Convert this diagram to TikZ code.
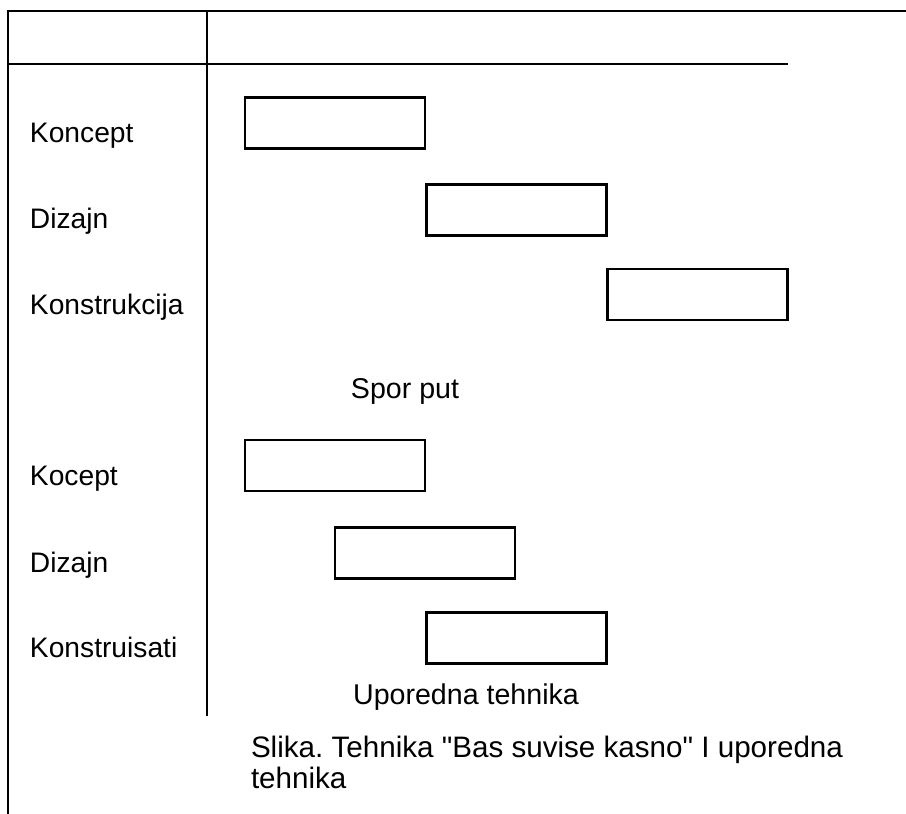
\documentclass[tikz,border=0pt]{standalone}
\usepackage{fontspec}
\setmainfont{Liberation Sans}[Ligatures=TeXOff]
\usetikzlibrary{calc}
\frenchspacing

\begin{document}
\begin{tikzpicture}[x=0.5pt, y=-0.5pt, line width=1pt,
		phase/.style = {draw, line width=1.2pt, minimum width=90pt, minimum height=25.5pt, inner sep=0pt},
		lbl/.style = {anchor=base west, inner sep=0pt, font=\fontsize{14.1}{17}\selectfont},
		mid/.style = {anchor=base, inner sep=0pt, font=\fontsize{14.3}{17}\selectfont},
		captxt/.style = {anchor=base west, inner sep=0pt, font=\fontsize{14.8}{18}\selectfont}]
		\useasboundingbox (0,0) rectangle (906,814);
		% frame of the table
		\coordinate (TL) at (8,11);
		\coordinate (TR) at (906,11);
		\coordinate (BL) at (8,814);
		\coordinate (DT) at (207,11);
		\coordinate (DB) at (207,716);
		\coordinate (HL) at (8,64);
		\coordinate (HR) at (788,64);
		\draw[line width=1.4pt] (TR) -- (TL) -- (BL);
		\draw (DT) -- (DB);
		\draw[line width=1.2pt] (HL) -- (HR);
		% slow way
		\node[lbl] (K1) at (29,142) {Koncept};
		\node[lbl] (D1) at (29,228) {Dizajn};
		\node[lbl] (G1) at (29,314) {Konstrukcija};
		\node[phase] (BK1) at (335,123) {};
		\node[phase] (BD1) at (516.5,210) {};
		\node[phase] (BG1) at (697.5,294.5) {};
		\node[mid] (S) at (405,398) {Spor put};
		% parallel way
		\node[lbl] (K2) at (29,485) {Kocept};
		\node[lbl] (D2) at (29,572) {Dizajn};
		\node[lbl] (G2) at (29,657) {Konstruisati};
		\node[phase] (BK2) at (335,465.5) {};
		\node[phase] (BD2) at (425,553) {};
		\node[phase] (BG2) at (516.5,638) {};
		\node[mid] (U) at (466,704) {Uporedna tehnika};
		% caption
		\node[captxt] (C1) at (250,757) {Slika. Tehnika "Bas suvise kasno" I uporedna};
		\node[captxt] (C2) at (250,788) {tehnika};
	\end{tikzpicture}
\end{document}
